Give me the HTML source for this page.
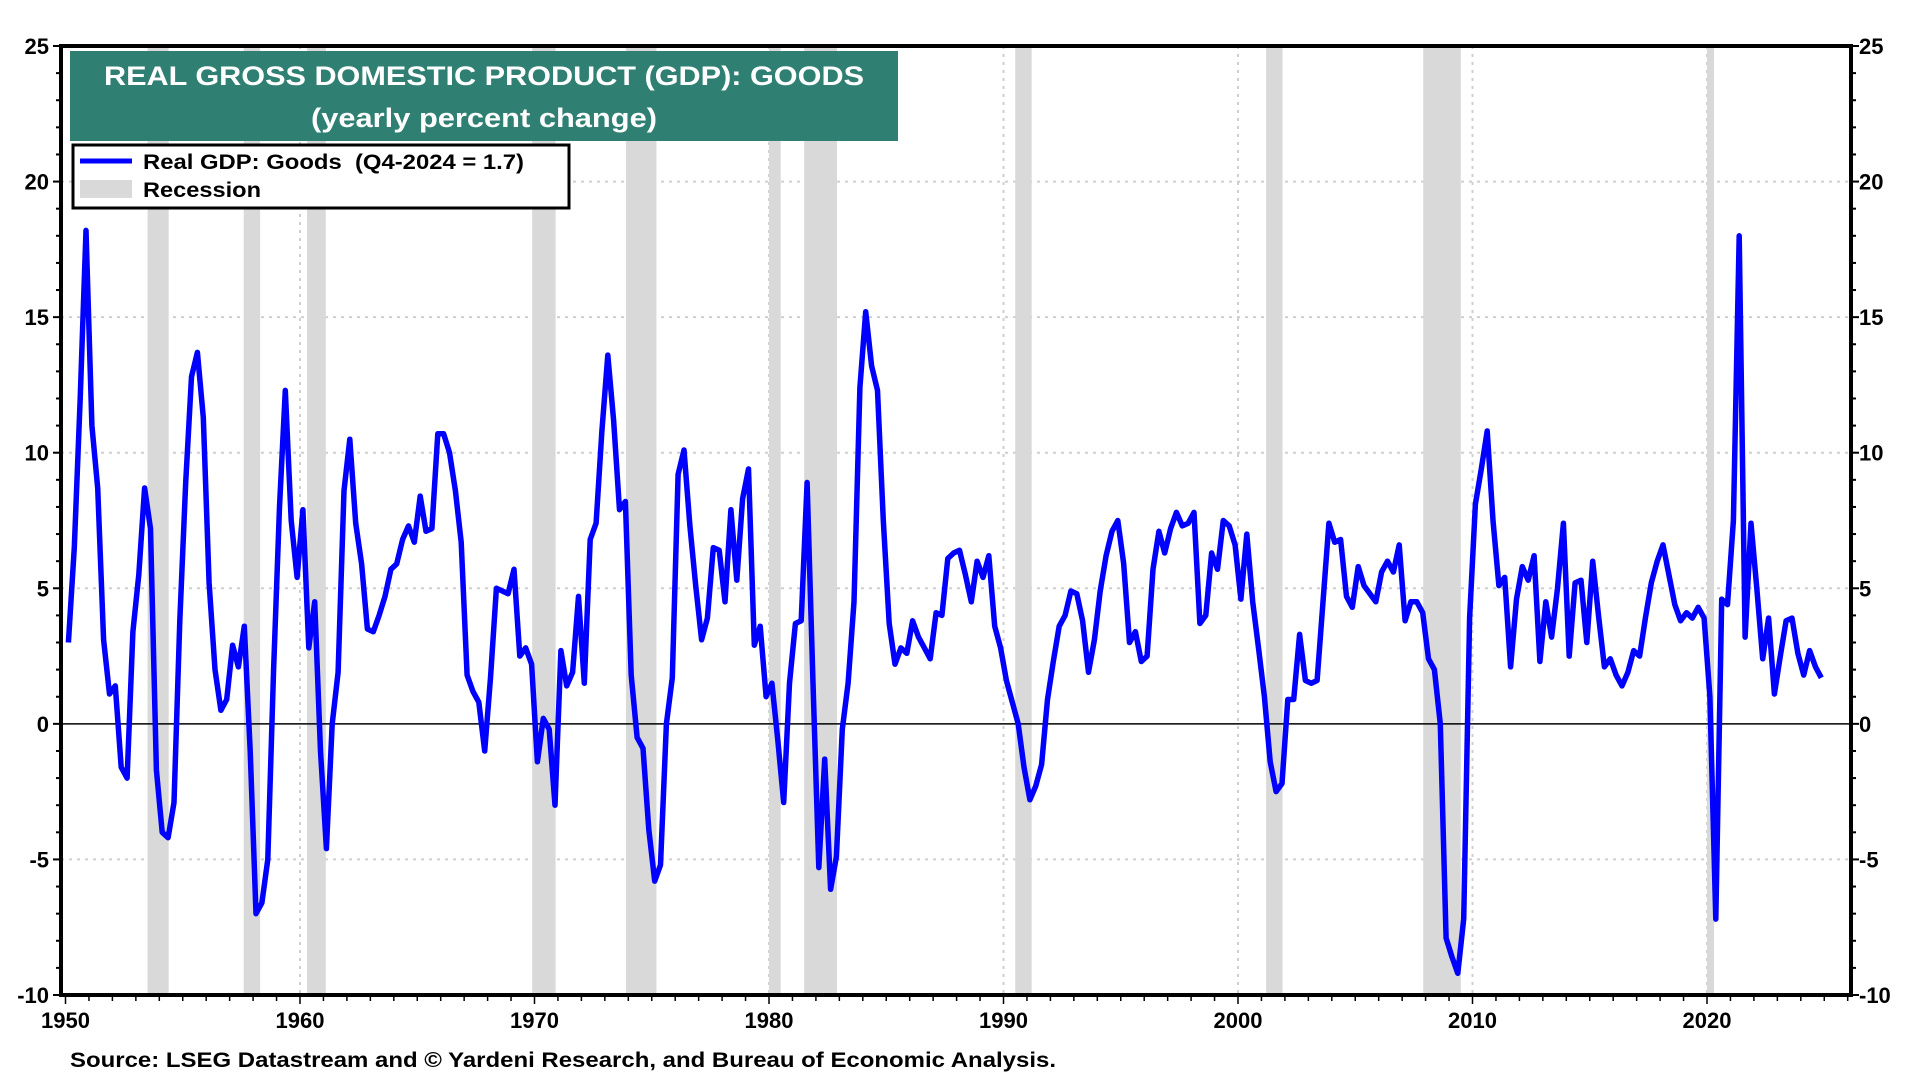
<!DOCTYPE html>
<html><head><meta charset="utf-8"><style>
html,body{margin:0;padding:0;background:#fff;width:1920px;height:1080px;overflow:hidden}
svg{display:block;font-family:"Liberation Sans",Arial,sans-serif;font-weight:bold}
</style></head><body>
<svg id="chart" width="1920" height="1080" viewBox="0 0 1920 1080" xmlns="http://www.w3.org/2000/svg">
<g id="grid"></g>
<g id="rec"></g>
<g id="axes"></g>
<g id="series"></g>
<g>
<rect x="70" y="51" width="828" height="90" fill="#2f7f73"/>
<text x="484" y="85" text-anchor="middle" font-size="27" fill="#fff" textLength="760" lengthAdjust="spacingAndGlyphs">REAL GROSS DOMESTIC PRODUCT (GDP): GOODS</text>
<text x="484" y="127" text-anchor="middle" font-size="27" fill="#fff" textLength="346" lengthAdjust="spacingAndGlyphs">(yearly percent change)</text>
</g>
<g>
<rect x="73" y="145" width="496" height="63" fill="#fff" stroke="#000" stroke-width="3"/>
<line x1="80" y1="161" x2="132" y2="161" stroke="#0000ff" stroke-width="5"/>
<text x="143" y="169" font-size="21" textLength="381" lengthAdjust="spacingAndGlyphs">Real GDP: Goods &#160;(Q4-2024 = 1.7)</text>
<rect x="80" y="180" width="52" height="18" fill="#d9d9d9"/>
<text x="143" y="197" font-size="21" textLength="118" lengthAdjust="spacingAndGlyphs">Recession</text>
</g>
<text x="70" y="1067" font-size="21" textLength="986" lengthAdjust="spacingAndGlyphs">Source: LSEG Datastream and © Yardeni Research, and Bureau of Economic Analysis.</text>
</svg>
<script>
const startYear = 1950;
const values = [3.0,6.5,12.0,18.2,11,8.7,3.1,1.1,1.4,-1.6,-2.0,3.4,5.5,8.7,7.2,-1.7,-4.0,-4.2,-2.9,3.8,8.9,12.8,13.7,11.3,5.2,2.0,0.5,0.9,2.9,2.1,3.6,-1.0,-7.0,-6.6,-5.0,2.0,8.0,12.3,7.5,5.4,7.9,2.8,4.5,-1.0,-4.6,0.0,1.9,8.6,10.5,7.4,5.9,3.5,3.4,4.0,4.7,5.7,5.9,6.8,7.3,6.7,8.4,7.1,7.2,10.7,10.7,10.0,8.6,6.7,1.8,1.2,0.8,-1.0,1.7,5.0,4.9,4.8,5.7,2.5,2.8,2.2,-1.4,0.2,-0.2,-3.0,2.7,1.4,1.9,4.7,1.5,6.8,7.4,10.8,13.6,11.2,7.9,8.2,1.8,-0.5,-0.9,-3.9,-5.8,-5.2,0.0,1.7,9.2,10.1,7.3,5.1,3.1,3.9,6.5,6.4,4.5,7.9,5.3,8.3,9.4,2.9,3.6,1.0,1.5,-0.6,-2.9,1.5,3.7,3.8,8.9,1.5,-5.3,-1.3,-6.1,-4.9,-0.2,1.5,4.5,12.4,15.2,13.2,12.3,7.5,3.7,2.2,2.8,2.6,3.8,3.2,2.8,2.4,4.1,4.0,6.1,6.3,6.4,5.5,4.5,6.0,5.4,6.2,3.6,2.8,1.6,0.8,0.0,-1.6,-2.8,-2.3,-1.5,0.9,2.3,3.6,4.0,4.9,4.8,3.8,1.9,3.1,4.9,6.2,7.1,7.5,5.9,3.0,3.4,2.3,2.5,5.7,7.1,6.3,7.2,7.8,7.3,7.4,7.8,3.7,4.0,6.3,5.7,7.5,7.3,6.6,4.6,7.0,4.5,2.8,1.0,-1.4,-2.5,-2.2,0.9,0.9,3.3,1.6,1.5,1.6,4.5,7.4,6.7,6.8,4.7,4.3,5.8,5.1,4.8,4.5,5.6,6.0,5.6,6.6,3.8,4.5,4.5,4.1,2.4,2.0,0.0,-7.9,-8.6,-9.2,-7.2,3.9,8.1,9.4,10.8,7.5,5.1,5.4,2.1,4.6,5.8,5.3,6.2,2.3,4.5,3.2,5.0,7.4,2.5,5.2,5.3,3.0,6.0,4.0,2.1,2.4,1.8,1.4,1.9,2.7,2.5,3.9,5.2,6.0,6.6,5.5,4.4,3.8,4.1,3.9,4.3,3.9,1.0,-7.2,4.6,4.4,7.5,18.0,3.2,7.4,5.0,2.4,3.9,1.1,2.5,3.8,3.9,2.6,1.8,2.7,2.1,1.7];
const recStart = [1953.5,1957.6,1960.3,1969.9,1973.9,1980.0,1981.5,1990.5,2001.2,2007.9,2020.0];
const recEnd   = [1954.4,1958.3,1961.1,1970.9,1975.2,1980.5,1982.9,1991.2,2001.9,2009.5,2020.3];
const yTicks = [25,20,15,10,5,0,-5,-10];
const xTicks = [1950,1960,1970,1980,1990,2000,2010,2020];

const NS="http://www.w3.org/2000/svg";
const L=61,R=1851,T=46,B=995;
const X=t=>65.5+(t-1950)*23.45;
const Y=v=>T+(25-v)*(B-T)/35;
function mk(tag,attrs,parent){const e=document.createElementNS(NS,tag);for(const k in attrs)e.setAttribute(k,attrs[k]);parent.appendChild(e);return e;}
const grid=document.getElementById('grid'),rec=document.getElementById('rec'),axes=document.getElementById('axes'),series=document.getElementById('series');

yTicks.forEach(v=>{
  if(v!==25&&v!==-10&&v!==0){const g=mk('line',{x1:L,x2:R,y1:Y(v),y2:Y(v),stroke:'#cfcfcf','stroke-width':2,'stroke-dasharray':'3 5'},grid);
  
  }
  const a=mk('text',{x:49,y:Y(v)+8,'text-anchor':'end','font-size':22},axes);a.textContent=v;
  
  
  const b=mk('text',{x:1859,y:Y(v)+8,'font-size':22},axes);b.textContent=v;
  
  
});
xTicks.forEach(t=>{
  if(t!==1950){const g=mk('line',{x1:X(t),x2:X(t),y1:T,y2:B,stroke:'#cfcfcf','stroke-width':2,'stroke-dasharray':'3 5'},grid);
  
  }
  const a=mk('text',{x:X(t),y:1028,'text-anchor':'middle','font-size':22},axes);a.textContent=t;
  
  
});
recStart.forEach((s,i)=>{
  const r=mk('rect',{x:X(s),y:T,width:X(recEnd[i])-X(s),height:B-T,fill:'#d9d9d9'},rec);
  
  
});
const z=mk('line',{x1:L,x2:R,y1:Y(0),y2:Y(0),stroke:'#000','stroke-width':1.5},axes);


for(let v=-10;v<=25;v++){
  mk('line',{x1:L-(v%5?5:8),x2:L,y1:Y(v),y2:Y(v),stroke:'#000','stroke-width':2},axes);
  mk('line',{x1:R,x2:R+(v%5?5:8),y1:Y(v),y2:Y(v),stroke:'#000','stroke-width':2},axes);
}
for(let t=1950;t<=2026;t++){mk('line',{x1:X(t),x2:X(t),y1:B,y2:B+(t%10?6:9),stroke:'#000','stroke-width':1.5},axes);}
const fr=mk('rect',{x:L,y:T,width:R-L,height:B-T,fill:'none',stroke:'#000','stroke-width':4},axes);


let d='';
values.forEach((v,i)=>{const t=startYear+i*0.25+0.125;d+=(i?'L':'M')+X(t).toFixed(1)+' '+Y(v).toFixed(1);});
const p=mk('path',{d:d,fill:'none',stroke:'#0000ff','stroke-width':5.5,'stroke-linejoin':'round'},series);


</script>
</body></html>
